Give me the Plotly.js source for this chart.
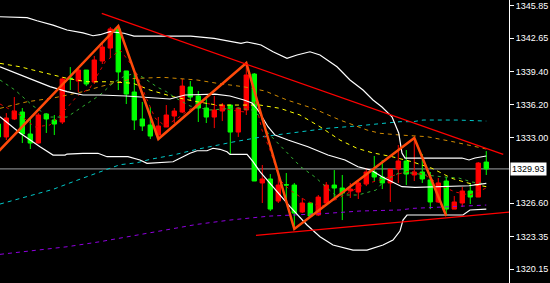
<!DOCTYPE html>
<html><head><meta charset="utf-8">
<script src="https://cdn.plot.ly/plotly-3.0.1.min.js"></script>
<style>html,body{margin:0;padding:0;background:#000;}#chart{width:550px;height:283px;}</style>
</head><body><div id="chart"></div>
<script>
// ---- candles (bar index -1 .. 60) ----
const firstBar = -1;
const opens = [1334.30,1333.04,1334.79,1335.47,1333.33,1332.45,1335.28,1334.69,1334.50,1338.78,
1338.49,1339.56,1338.39,1340.44,1341.70,1343.56,1339.47,1337.42,1334.79,1334.21,
1333.23,1334.01,1335.08,1335.47,1337.91,1337.03,1335.86,1334.98,1335.57,1336.15,
1333.52,1335.67,1339.17,1328.56,1328.95,1326.80,1328.40,1328.36,1325.73,1326.61,
1325.44,1326.61,1328.36,1328.07,1327.78,1327.68,1328.46,1329.63,1329.14,1328.56,
1329.92,1330.70,1329.34,1329.63,1328.85,1326.71,1328.75,1326.02,1326.61,1327.78,
1327.19,1330.60];
const highs = [1334.69,1335.37,1336.93,1335.86,1334.79,1335.37,1335.37,1335.18,1338.88,1339.85,
1339.85,1339.56,1340.93,1342.29,1343.75,1343.85,1339.47,1339.27,1336.45,1335.96,
1334.98,1336.15,1335.86,1338.69,1338.49,1337.52,1336.74,1337.03,1336.35,1336.15,
1335.96,1340.24,1339.27,1330.31,1329.43,1329.63,1329.53,1328.56,1327.10,1326.71,
1327.39,1328.65,1329.82,1329.34,1328.56,1328.85,1330.02,1331.19,1330.80,1329.92,
1332.26,1331.77,1332.94,1331.38,1329.63,1329.04,1329.14,1327.29,1328.17,1328.56,
1330.60,1331.67];
const lows = [1332.74,1332.74,1334.69,1332.45,1331.87,1332.40,1333.43,1333.23,1334.30,1337.61,
1337.42,1338.00,1338.20,1340.15,1340.73,1337.61,1336.25,1333.72,1333.62,1332.84,
1332.84,1334.01,1334.40,1335.37,1336.64,1334.50,1334.40,1333.91,1334.59,1331.38,
1333.04,1335.18,1328.75,1326.61,1325.83,1326.61,1327.00,1324.08,1325.63,1325.24,
1325.34,1326.51,1327.00,1324.95,1327.10,1327.00,1328.26,1328.75,1327.97,1326.71,
1328.56,1328.36,1328.75,1328.56,1326.02,1326.61,1325.34,1326.02,1326.22,1326.51,
1327.19,1329.34];
const closes = [1333.04,1334.89,1335.57,1333.33,1332.45,1335.18,1334.79,1334.30,1338.69,1338.69,
1339.56,1338.20,1340.54,1341.80,1343.56,1339.37,1337.22,1334.69,1334.11,1333.13,
1334.11,1335.18,1335.57,1338.00,1336.93,1335.86,1334.98,1335.67,1336.15,1333.52,
1335.86,1339.08,1328.75,1328.95,1326.02,1328.36,1328.36,1325.63,1326.61,1325.34,
1327.19,1328.36,1328.07,1327.58,1327.97,1328.56,1329.63,1329.14,1328.56,1329.92,
1330.70,1329.43,1329.63,1328.95,1326.71,1328.56,1326.02,1326.71,1327.78,1327.19,
1330.50,1329.93];
const lastPrice = 1329.93;

// ---- Bollinger bands ----
const bbUpperX = [-0.79,0.84,2.59,3.84,5.84,7.59,9.59,10.84,11.71,12.96,14.71,15.96,23.05,25.96,28.46,29.34,30.09,31.84,33.34,35.09,36.34,37.96,39.21,41.34,42.96,44.59,45.84,46.96,48.21,49.05,49.46,49.84,56.96,57.84,58.59,60];
const bbUpperY = [1344.75,1344.72,1344.66,1344.36,1343.94,1343.46,1343.17,1342.90,1343.00,1343.29,1343.14,1342.87,1342.87,1342.65,1342.32,1342.16,1342.29,1342.00,1341.34,1340.70,1341.02,1341.34,1341.02,1339.88,1338.59,1337.61,1336.64,1335.96,1335.01,1333.43,1331.48,1330.99,1330.99,1330.80,1330.99,1331.19];
const bbMidX = [-0.79,1.34,3.34,5.46,7.59,9.59,11.71,14.96,20.46,22.34,26.09,27.96,29.71,30.71,31.46,32.71,33.59,35.21,37.71,40.21,42.34,43.96,45.59,46.96,48.21,49.46,51.09,56.09,57.84,60];
const bbMidY = [1339.88,1339.24,1338.59,1337.94,1337.45,1337.13,1337.13,1337.03,1336.74,1337.13,1337.22,1337.03,1336.64,1336.35,1335.67,1334.04,1333.23,1332.74,1332.09,1331.28,1330.80,1330.14,1329.82,1329.17,1328.68,1328.20,1328.14,1328.20,1328.29,1328.53];
const bbLowerX = [-0.79,1.71,4.21,5.84,7.34,7.59,9.59,11.46,12.59,15.21,16.71,17.59,20.84,21.71,22.96,23.84,25.09,25.84,26.71,27.59,27.96,30.09,30.84,31.71,33.34,35.46,37.59,39.21,40.84,43.34,45.09,47.09,48.34,49.21,49.59,50.09,57.09,57.96,60];
const bbLowerY = [1335.01,1333.43,1332.09,1331.28,1331.28,1331.38,1331.45,1331.45,1331.12,1331.12,1330.80,1330.47,1330.63,1330.96,1331.45,1331.70,1331.70,1331.94,1331.84,1331.60,1331.35,1331.35,1330.63,1329.66,1328.20,1326.25,1324.47,1323.33,1322.52,1322.03,1322.03,1322.52,1323.00,1323.88,1324.95,1325.44,1325.44,1325.93,1326.02];

// ---- moving averages ----
const maYellowX = [-0.79,1.71,3.34,5.84,7.59,10.09,12.96,15.84,17.96,20.84,23.84,26.34,29.21,31.71,34.21,36.71,39.21,41.71,43.84,45.71,48.21,50.71,53.21,55.71,57.84,60];
const maYellowY = [1340.21,1339.88,1339.56,1339.08,1338.75,1338.42,1338.42,1338.27,1337.61,1336.96,1336.47,1336.15,1336.15,1336.15,1335.83,1335.18,1334.04,1332.74,1331.94,1331.51,1331.12,1330.63,1329.99,1329.01,1328.53,1328.20];
const maOrangeX = [-0.79,2.59,5.84,9.59,11.71,15.84,19.59,23.84,26.34,29.59,32.34,35.09,38.34,41.71,45.09,46.71,49.21,52.59,55.84,60];
const maOrangeY = [1335.83,1336.47,1336.83,1337.45,1337.94,1338.73,1338.85,1338.59,1338.27,1337.94,1337.52,1336.64,1335.83,1334.69,1333.72,1333.40,1333.23,1333.07,1332.58,1331.87];
const maCyanX = [-0.79,1.71,3.34,5.84,8.34,10.84,12.59,14.21,16.34,17.96,20.84,23.84,26.34,28.34,32.09,35.84,40.09,44.21,49.21,50.84,52.09,56.34,60];
const maCyanY = [1326.51,1327.07,1327.39,1327.94,1328.68,1329.43,1329.89,1330.34,1330.53,1330.86,1331.28,1331.84,1332.26,1332.55,1333.07,1333.46,1333.88,1334.14,1334.53,1334.53,1334.69,1334.69,1334.59];
const maPurpleX = [-0.79,3.34,7.59,11.71,16.34,19.59,23.84,27.96,32.96,35.84,40.09,44.21,49.21,50.84,55.09,60];
const maPurpleY = [1321.61,1321.96,1322.35,1322.84,1323.49,1323.98,1324.53,1324.95,1325.34,1325.44,1325.60,1325.83,1325.93,1326.09,1326.25,1326.41];
const maGreenX = [-0.79,1.09,3.34,5.46,7.59,9.21,11.71,13.34,14.59,16.09,17.21,18.84,20.09,20.96,22.96,25.46,28.84,30.71,31.84,32.71,35.21,36.84,38.59,39.84,41.09,43.96,46.21,47.34,49.09,50.71,52.34,54.84,56.59,58.21,60];
const maGreenY = [1338.59,1337.61,1336.06,1334.98,1334.98,1335.86,1337.13,1338.30,1338.88,1339.27,1338.78,1337.91,1337.42,1336.93,1336.06,1335.67,1335.86,1335.67,1334.98,1333.43,1331.48,1330.11,1329.14,1328.26,1327.39,1327.39,1327.87,1328.85,1329.53,1329.53,1329.34,1329.14,1329.04,1328.65,1328.46];
const maRedX = [-0.79,1.71,3.59,5.46,7.59,8.84,10.46,12.34,14.21,15.21,16.21,17.34,18.59,19.84,21.46,24.21,26.09,27.96,29.84,31.09,31.96,32.96,34.21,35.46,37.34,39.21,41.09,42.96,44.84,46.71,48.59,50.46,52.34,54.21,56.09,57.96,60];
const maRedY = [1336.25,1335.18,1334.01,1334.21,1335.86,1337.03,1337.81,1340.34,1341.51,1340.54,1339.37,1337.13,1334.89,1334.11,1334.89,1336.45,1336.15,1335.67,1335.47,1336.64,1333.72,1331.77,1328.85,1327.87,1326.90,1326.22,1326.90,1327.68,1328.46,1328.85,1329.34,1329.73,1329.34,1328.36,1327.68,1327.39,1328.07];

// ---- zigzag and trend lines ----
const zigzagX = [-2,14,19,30,36,51,55];
const zigzagY = [1330.80,1343.85,1332.84,1340.24,1324.08,1332.94,1325.34];
const trendUpperX = [11.93,63.18];
const trendUpperY = [1345.08,1331.06];
const trendLowerX = [31.21,63.96];
const trendLowerY = [1323.46,1325.80];

// ---- axis ----
const tickVals = [1345.85,1342.65,1339.40,1336.20,1333.00,1326.60,1323.35,1320.15];
const tickText = ['1345.85','1342.65','1339.40','1336.20','1333.00','1326.60','1323.35','1320.15'];

const bars = opens.map((_, i) => firstBar + i);

function line(x, y, color, width, dash) {
  return {type:'scatter', mode:'lines', x:x, y:y, line:{color:color, width:width, dash:dash||'solid'},
          hoverinfo:'skip', showlegend:false};
}
function trend(x, y) {
  return {type:'scatter', mode:'lines+markers', x:x, y:y, cliponaxis:false,
          line:{color:'#ff0000', width:1.2},
          marker:{symbol:['circle','arrow'], size:[0,10], angleref:'previous', color:'#ff0000', line:{width:0}},
          hoverinfo:'skip', showlegend:false};
}
const D = '4px,4px';
const traces = [
  {type:'candlestick', x:bars, open:opens, high:highs, low:lows, close:closes,
   increasing:{line:{color:'#ff0000', width:1}, fillcolor:'#ff0000'},
   decreasing:{line:{color:'#00ff00', width:1}, fillcolor:'#00ff00'},
   whiskerwidth:0, hoverinfo:'skip', showlegend:false},
  line(maPurpleX, maPurpleY, '#9000e0', 1, D),
  line(maCyanX, maCyanY, '#00c8c8', 1, D),
  line(maOrangeX, maOrangeY, '#d08a00', 1, D),
  line(maYellowX, maYellowY, '#ffff00', 1, D),
  line(maGreenX, maGreenY, '#30b030', 1, '3px,4px'),
  line(maRedX, maRedY, '#e00000', 1, '3px,4px'),
  line(bbUpperX, bbUpperY, '#ffffff', 1.2),
  line(bbMidX, bbMidY, '#ffffff', 1.2),
  line(bbLowerX, bbLowerY, '#ffffff', 1.2),
  line(zigzagX, zigzagY, '#ff4a0a', 2.5),
  trend(trendUpperX, trendUpperY),
  trend(trendLowerX, trendLowerY)
];

const FONT = 'Liberation Sans, Arial, sans-serif';
const layout = {
  width:550, height:283,
  margin:{l:0, r:41, t:0, b:0, pad:0},
  paper_bgcolor:'#000000', plot_bgcolor:'#000000',
  boxgap:0.45, boxgroupgap:0,
  showlegend:false,
  xaxis:{range:[-0.79,62.84], showgrid:false, zeroline:false, showticklabels:false,
         showline:false, ticks:'', rangeslider:{visible:false}, fixedrange:true},
  yaxis:{side:'right', range:[1318.82,1346.38], tickmode:'array', tickvals:tickVals, ticktext:tickText,
         showgrid:false, zeroline:false, showline:true, linecolor:'#ffffff', linewidth:1,
         ticks:'outside', ticklen:4, tickcolor:'#ffffff', tickwidth:1, ticklabeloverflow:'allow',
         tickfont:{family:FONT, size:9, color:'#ffffff'}, fixedrange:true},
  shapes:[{type:'line', layer:'below', xref:'paper', x0:0, x1:1, yref:'y', y0:lastPrice, y1:lastPrice,
           line:{color:'#a0a4a8', width:1}}],
  annotations:[{xref:'paper', x:1, xanchor:'left', xshift:1, yref:'y', y:lastPrice, yanchor:'middle',
                text:lastPrice.toFixed(2), showarrow:false, bgcolor:'#ffffff', borderpad:1,
                font:{family:FONT, size:9, color:'#000000'}}]
};
Plotly.newPlot('chart', traces, layout, {displayModeBar:false, staticPlot:true});
</script>
</body></html>
